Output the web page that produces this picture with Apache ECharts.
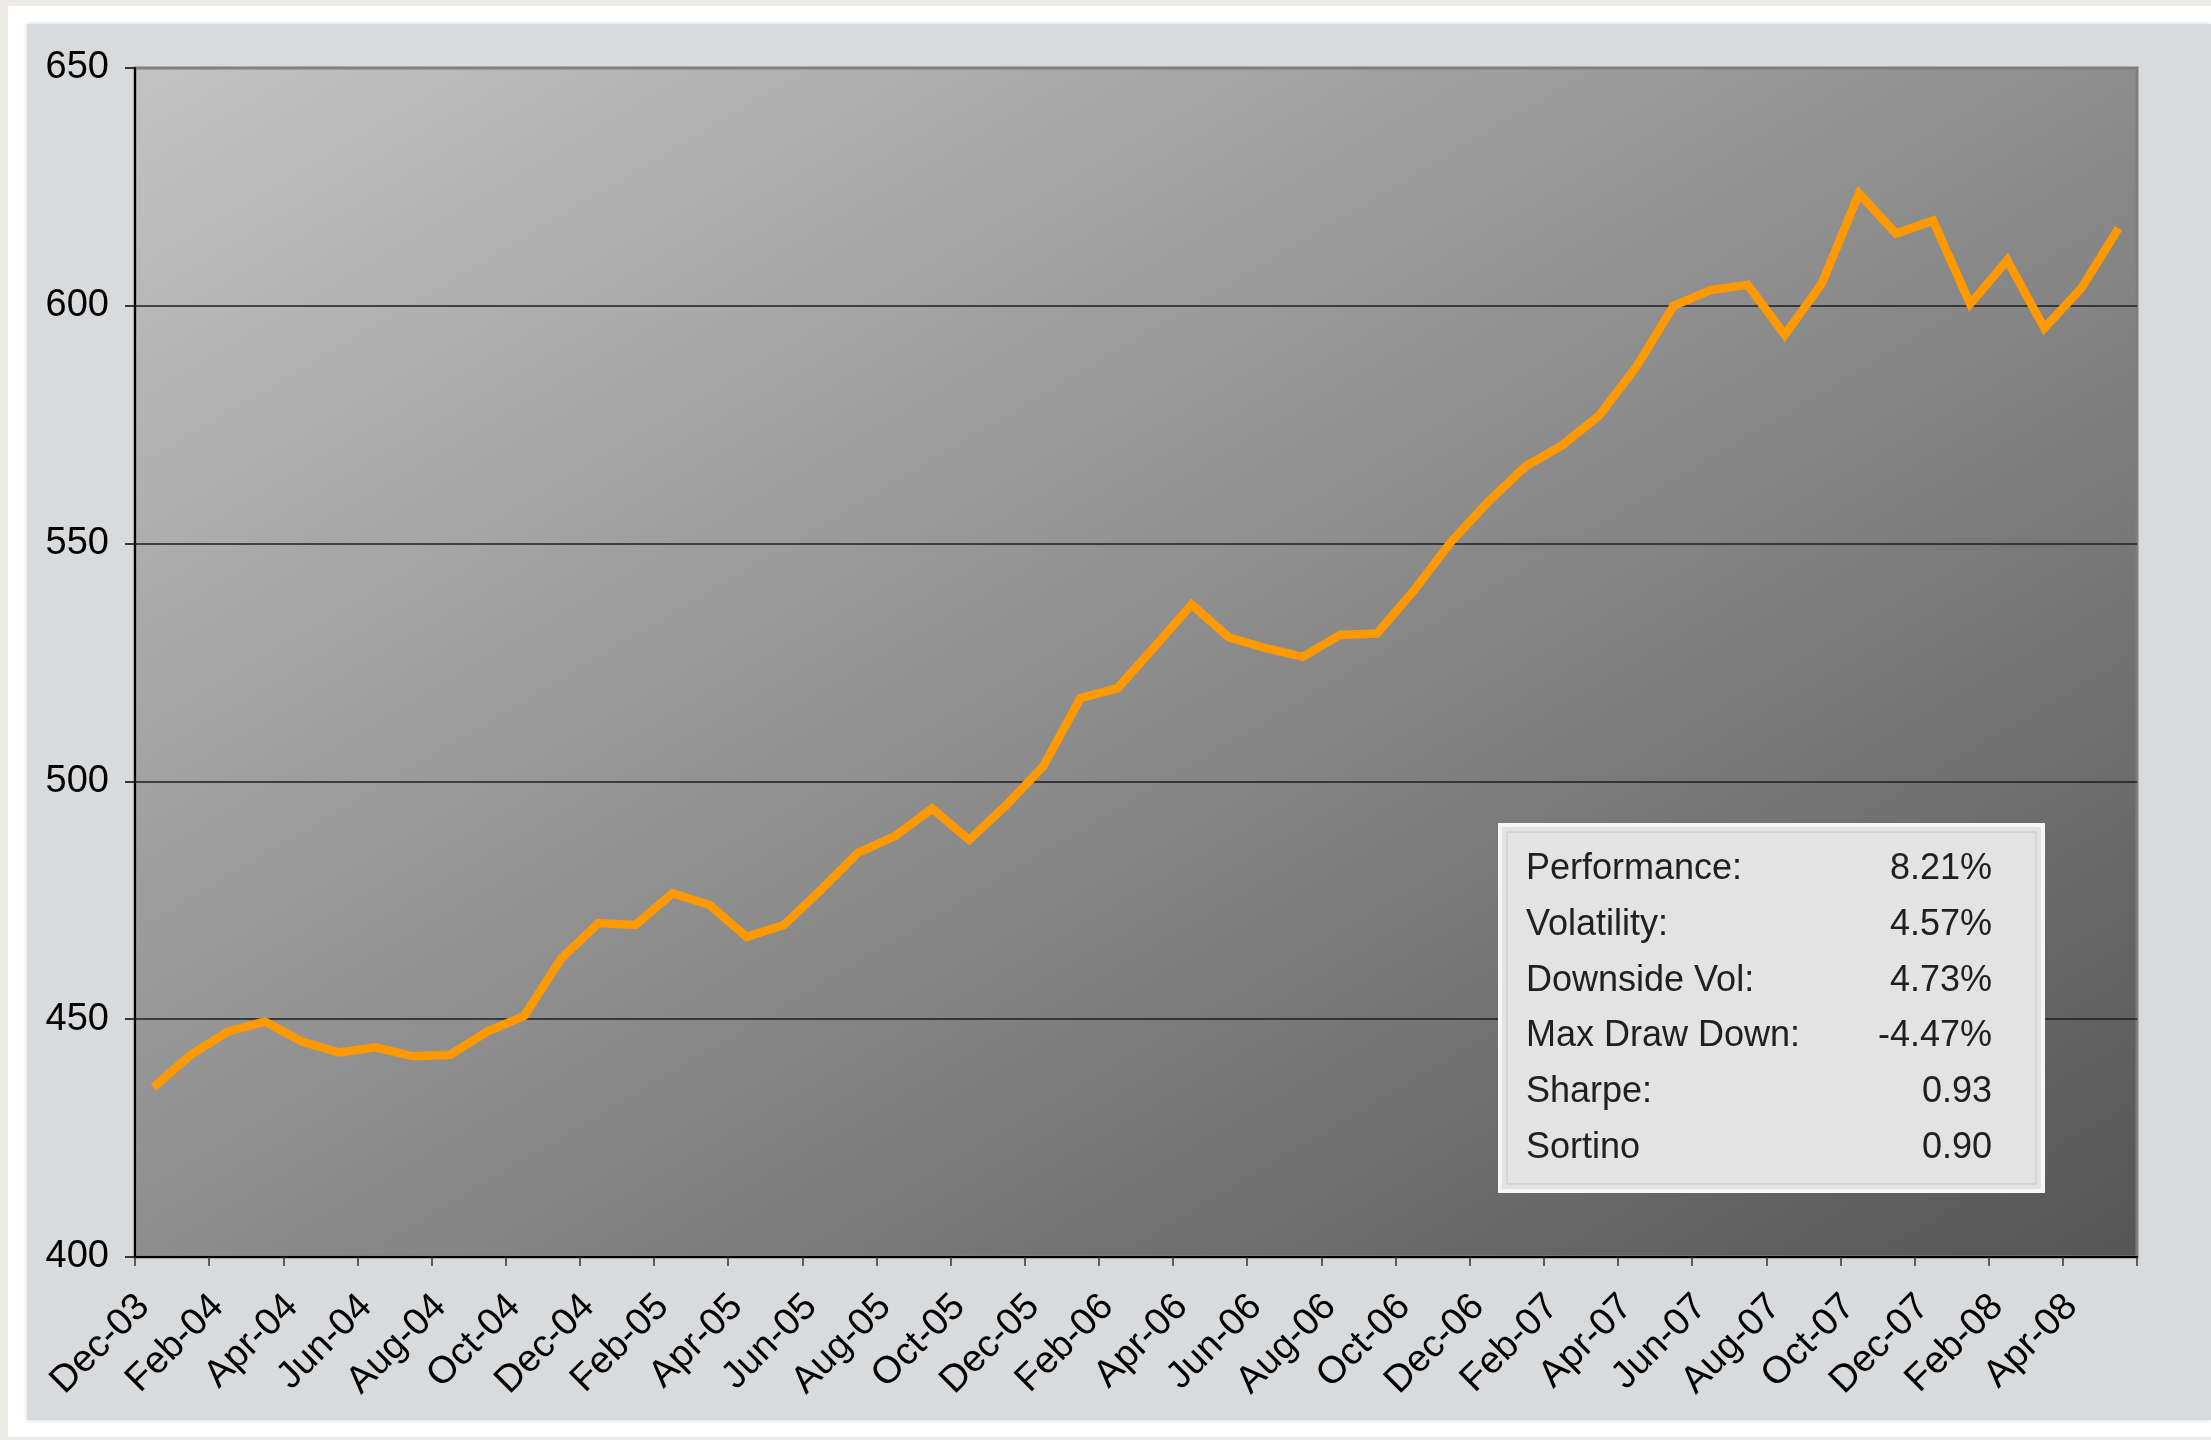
<!DOCTYPE html>
<html>
<head>
<meta charset="utf-8">
<title>NAV 2003-2008</title>
<style>
  html, body { margin: 0; padding: 0; background: #ecebe7; }
  #chart { width: 2211px; height: 1440px; }
</style>
<script src="https://cdn.jsdelivr.net/npm/echarts@6/dist/echarts.min.js"></script>
</head>
<body>
<div id="chart"></div>
<script>
// Monthly categories
const months = [
  'Dec-03','Jan-04','Feb-04','Mar-04','Apr-04','May-04','Jun-04','Jul-04','Aug-04','Sep-04','Oct-04','Nov-04',
  'Dec-04','Jan-05','Feb-05','Mar-05','Apr-05','May-05','Jun-05','Jul-05','Aug-05','Sep-05','Oct-05','Nov-05',
  'Dec-05','Jan-06','Feb-06','Mar-06','Apr-06','May-06','Jun-06','Jul-06','Aug-06','Sep-06','Oct-06','Nov-06',
  'Dec-06','Jan-07','Feb-07','Mar-07','Apr-07','May-07','Jun-07','Jul-07','Aug-07','Sep-07','Oct-07','Nov-07',
  'Dec-07','Jan-08','Feb-08','Mar-08','Apr-08','May-08'
];

// Index level per month
const navValues = [
  435.7, 442.5, 447.4, 449.5, 445.3, 443.0, 444.1, 442.2, 442.5, 447.4, 450.7, 462.8,
  470.2, 469.8, 476.5, 474.0, 467.3, 469.8, 477.2, 485.0, 488.5, 494.3, 487.7, 495.0,
  503.2, 517.5, 519.6, 528.3, 537.2, 530.3, 528.0, 526.2, 530.8, 531.1, 540.2, 550.4,
  558.8, 566.2, 570.7, 577.0, 587.2, 600.0, 603.3, 604.4, 593.9, 604.7, 623.6, 615.2,
  617.9, 600.4, 609.6, 595.3, 603.7, 616.3
];

// Value axis range
const yMin = 400;
const yMax = 650;
const yStep = 50;

// Statistics table
const statNames = ['Performance:', 'Volatility:', 'Downside Vol:', 'Max Draw Down:', 'Sharpe:', 'Sortino'];
const statValues = ['8.21%', '4.57%', '4.73%', '-4.47%', '0.93', '0.90'];

const FONT = '"Liberation Sans", Arial, Helvetica, sans-serif';
const chart = echarts.init(document.getElementById('chart'), null, { renderer: 'canvas' });

// Stats box layout
const box = { x: 1500, y: 825, w: 543, h: 366 };
const rowTop = 869, rowGap = 55.8;
const statElements = [
  {
    type: 'rect', z: 50,
    shape: { x: box.x, y: box.y, width: box.w, height: box.h },
    style: { fill: '#e3e3e3', stroke: '#f6f6f6', lineWidth: 4 }
  },
  {
    type: 'rect', z: 51,
    shape: { x: box.x + 7, y: box.y + 7, width: box.w - 14, height: box.h - 14 },
    style: { fill: 'none', stroke: '#d5d5d5', lineWidth: 2 }
  }
];
statNames.forEach((name, i) => {
  statElements.push({
    type: 'text', z: 52,
    style: {
      text: name, x: 1526, y: rowTop + i * rowGap,
      font: '36px ' + FONT, fill: '#202020', align: 'left', verticalAlign: 'middle'
    }
  });
  statElements.push({
    type: 'text', z: 52,
    style: {
      text: statValues[i], x: 1992, y: rowTop + i * rowGap,
      font: '36px ' + FONT, fill: '#202020', align: 'right', verticalAlign: 'middle'
    }
  });
});

const option = {
  animation: false,
  backgroundColor: 'transparent',
  graphic: [
    // white frame and grey chart-area panel
    {
      type: 'rect', z: -20, silent: true,
      shape: { x: 8, y: 6, width: 2211 - 8, height: 1437 - 6 },
      style: { fill: '#ffffff' }
    },
    {
      type: 'rect', z: -19, silent: true,
      shape: { x: 27, y: 24, width: 2211 - 27, height: 1420 - 24 },
      style: { fill: '#d9dadc', shadowBlur: 4, shadowColor: 'rgba(0,0,0,0.18)' }
    }
  ].concat(statElements),
  grid: {
    left: 135, right: 74, top: 68, bottom: 183,
    show: true,
    borderColor: '#7f7f7f',
    borderWidth: 3,
    backgroundColor: new echarts.graphic.LinearGradient(0, 0, 0.52, 1.48, [
      { offset: 0, color: '#c3c3c3' },
      { offset: 0.5, color: '#8d8d8d' },
      { offset: 1, color: '#555555' }
    ])
  },
  xAxis: {
    type: 'category',
    data: months,
    boundaryGap: true,
    axisLine: { show: true, lineStyle: { color: '#000', width: 2 } },
    axisTick: { show: true, interval: 1, length: 9, lineStyle: { color: '#333', width: 1.5 } },
    axisLabel: {
      interval: 1, rotate: 45, margin: 34, padding: [0, 14, 0, 0],
      fontFamily: FONT, fontSize: 38, color: '#000'
    },
    splitLine: { show: false }
  },
  yAxis: {
    type: 'value',
    min: yMin, max: yMax, interval: yStep,
    axisLine: { show: true, lineStyle: { color: '#000', width: 2 } },
    axisTick: { show: true, length: 10, lineStyle: { color: '#000', width: 1.5 } },
    axisLabel: { margin: 26, padding: [14, 0, 0, 0], fontFamily: FONT, fontSize: 38, color: '#000' },
    splitLine: {
      show: true,
      lineStyle: { color: ['#000', '#1e1e1e', '#1e1e1e', '#1e1e1e', '#1e1e1e', '#7f7f7f'], width: 1.5 }
    }
  },
  series: [{
    type: 'line',
    data: navValues,
    symbol: 'none',
    smooth: false,
    z: 10,
    lineStyle: { color: '#ff9900', width: 8.5, join: 'miter' }
  }]
};

chart.setOption(option);
</script>
</body>
</html>
